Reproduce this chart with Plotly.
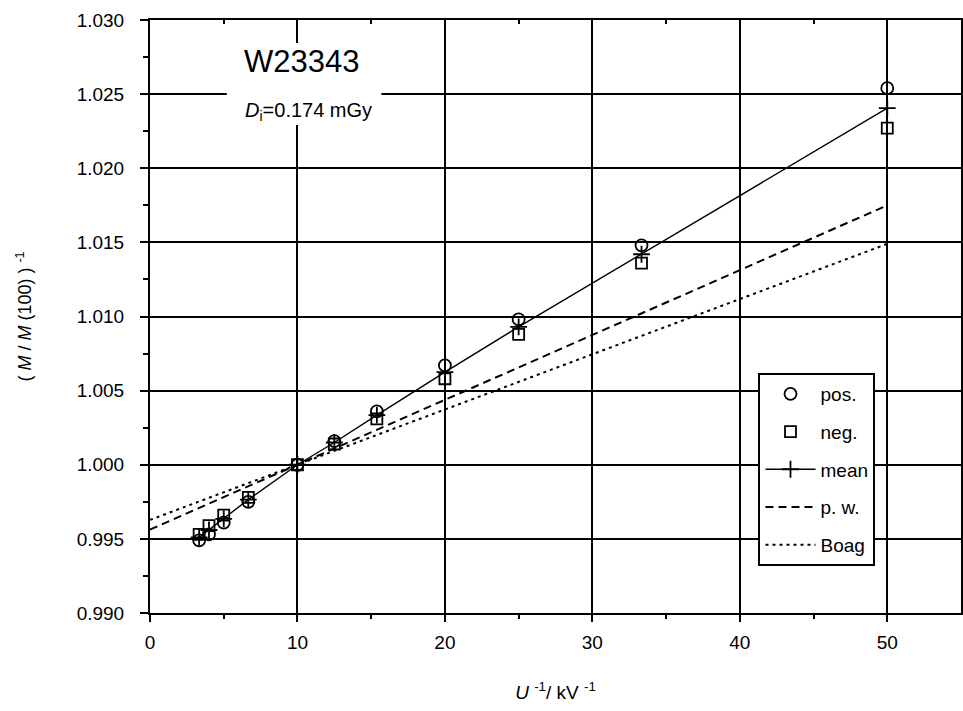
import plotly.graph_objects as go

# inverse voltage, kV^-1
x_vals = [3.333, 4.0, 5.0, 6.667, 10.0, 12.5, 15.385, 20.0, 25.0, 33.333, 50.0]
pos_vals = [0.9949, 0.9953, 0.9961, 0.9975, 1.0000, 1.0016, 1.0036, 1.0067, 1.0098, 1.0148, 1.0254]
neg_vals = [0.9953, 0.9959, 0.9966, 0.9978, 1.0000, 1.0014, 1.0031, 1.0058, 1.0088, 1.0136, 1.0227]
mean_vals = [0.9951, 0.9956, 0.99635, 0.99765, 1.0000, 1.0015, 1.00335, 1.00625, 1.0093, 1.0142, 1.02405]
pw_x = [0.0, 50.0]
pw_y = [0.99563, 1.01750]
boag_x = [0.0, 50.0]
boag_y = [0.99628, 1.01490]

FONT = "Arial, Liberation Sans, sans-serif"

fig = go.Figure()
fig.add_trace(go.Scatter(x=x_vals, y=pos_vals, mode="markers", name="pos.",
                         legendgroup="a",
                         marker=dict(symbol="circle-open", size=12, color="black",
                                     line=dict(width=1.8, color="black"))))
fig.add_trace(go.Scatter(x=x_vals, y=neg_vals, mode="markers", name="neg.",
                         legendgroup="b",
                         marker=dict(symbol="square-open", size=11, color="black",
                                     line=dict(width=1.8, color="black"))))
fig.add_trace(go.Scatter(x=x_vals, y=mean_vals, mode="lines+markers", name="mean",
                         legendgroup="c",
                         line=dict(color="black", width=1.4),
                         marker=dict(symbol="cross-thin-open", size=12, color="black",
                                     line=dict(width=1.8, color="black"))))
fig.add_trace(go.Scatter(x=pw_x, y=pw_y, mode="lines", name="p. w.",
                         legendgroup="d",
                         line=dict(color="black", width=2, dash="8px,5px")))
fig.add_trace(go.Scatter(x=boag_x, y=boag_y, mode="lines", name="Boag",
                         legendgroup="e",
                         line=dict(color="black", width=2, dash="3px,4px")))
# invisible trace to drive the top axis with inward ticks
fig.add_trace(go.Scatter(x=[0, 55], y=[1.0, 1.0], xaxis="x2", mode="lines",
                         line=dict(width=0), showlegend=False, hoverinfo="skip"))

fig.add_shape(type="rect", xref="paper", yref="paper",
              x0=(227 - 150) / 813, x1=(382 - 150) / 813,
              y0=(613 - 125) / 593, y1=(613 - 43) / 593,
              fillcolor="white", line=dict(width=0), layer="above")

fig.add_annotation(x=10.3, y=1.0272, text="W23343", showarrow=False,
                   font=dict(family=FONT, size=31, color="black"))
fig.add_annotation(x=6.3, y=1.0238, text="<i>D</i><sub>i</sub>=0.174 mGy", showarrow=False,
                   xanchor="left", font=dict(family=FONT, size=20, color="black"))

fig.update_layout(
    width=963, height=711,
    margin=dict(l=150, r=0, t=20, b=98),
    paper_bgcolor="white", plot_bgcolor="white",
    font=dict(family=FONT, size=19, color="black"),
    showlegend=True,
    legend=dict(x=(760 - 150) / 813, y=(613 - 373) / 593, xanchor="left", yanchor="top",
                bgcolor="white", bordercolor="black", borderwidth=2,
                font=dict(family=FONT, size=19, color="black"),
                traceorder="grouped", tracegroupgap=10, itemwidth=50),
    xaxis=dict(range=[0, 55], tickvals=[0, 10, 20, 30, 40, 50],
               showgrid=True, gridcolor="black", gridwidth=1.5,
               showline=True, linecolor="black", linewidth=2,
               ticks="outside", ticklen=7, tickwidth=2, tickcolor="black",
               ticklabelstandoff=4,
               minor=dict(tickvals=[5, 15, 25, 35, 45], ticks="outside", ticklen=4,
                          tickwidth=2, tickcolor="black", showgrid=False),
               zeroline=False, mirror=False,
               tickfont=dict(family=FONT, size=19),
               title=dict(text="<i>U</i> <sup>-1</sup>/ kV <sup>-1</sup>",
                          font=dict(family=FONT, size=19), standoff=34)),
    xaxis2=dict(range=[0, 55], overlaying="x", side="top", anchor="y",
                tickvals=[0, 10, 20, 30, 40, 50], showticklabels=False,
                showgrid=False, showline=True, linecolor="black", linewidth=2,
                ticks="inside", ticklen=8, tickwidth=2, tickcolor="black",
                minor=dict(tickvals=[5, 15, 25, 35, 45], ticks="inside", ticklen=4,
                           tickwidth=2, tickcolor="black"),
                zeroline=False),
    yaxis=dict(range=[0.990, 1.030],
               tickvals=[0.990, 0.995, 1.000, 1.005, 1.010, 1.015, 1.020, 1.025, 1.030],
               ticktext=["0.990", "0.995", "1.000", "1.005", "1.010", "1.015", "1.020", "1.025", "1.030"],
               showgrid=True, gridcolor="black", gridwidth=1.5,
               showline=True, linecolor="black", linewidth=2, mirror=True,
               ticks="outside", ticklen=8, tickwidth=2, tickcolor="black",
               ticklabelstandoff=12,
               minor=dict(tickvals=[0.9925, 0.9975, 1.0025, 1.0075, 1.0125, 1.0175, 1.0225, 1.0275],
                          ticks="outside", ticklen=5, tickwidth=2, tickcolor="black",
                          showgrid=False),
               zeroline=False,
               tickfont=dict(family=FONT, size=19),
               title=dict(text="( <i>M</i> / <i>M</i> (100) ) <sup>-1</sup>",
                          font=dict(family=FONT, size=18), standoff=40)),
)

fig.write_html("out.html")
